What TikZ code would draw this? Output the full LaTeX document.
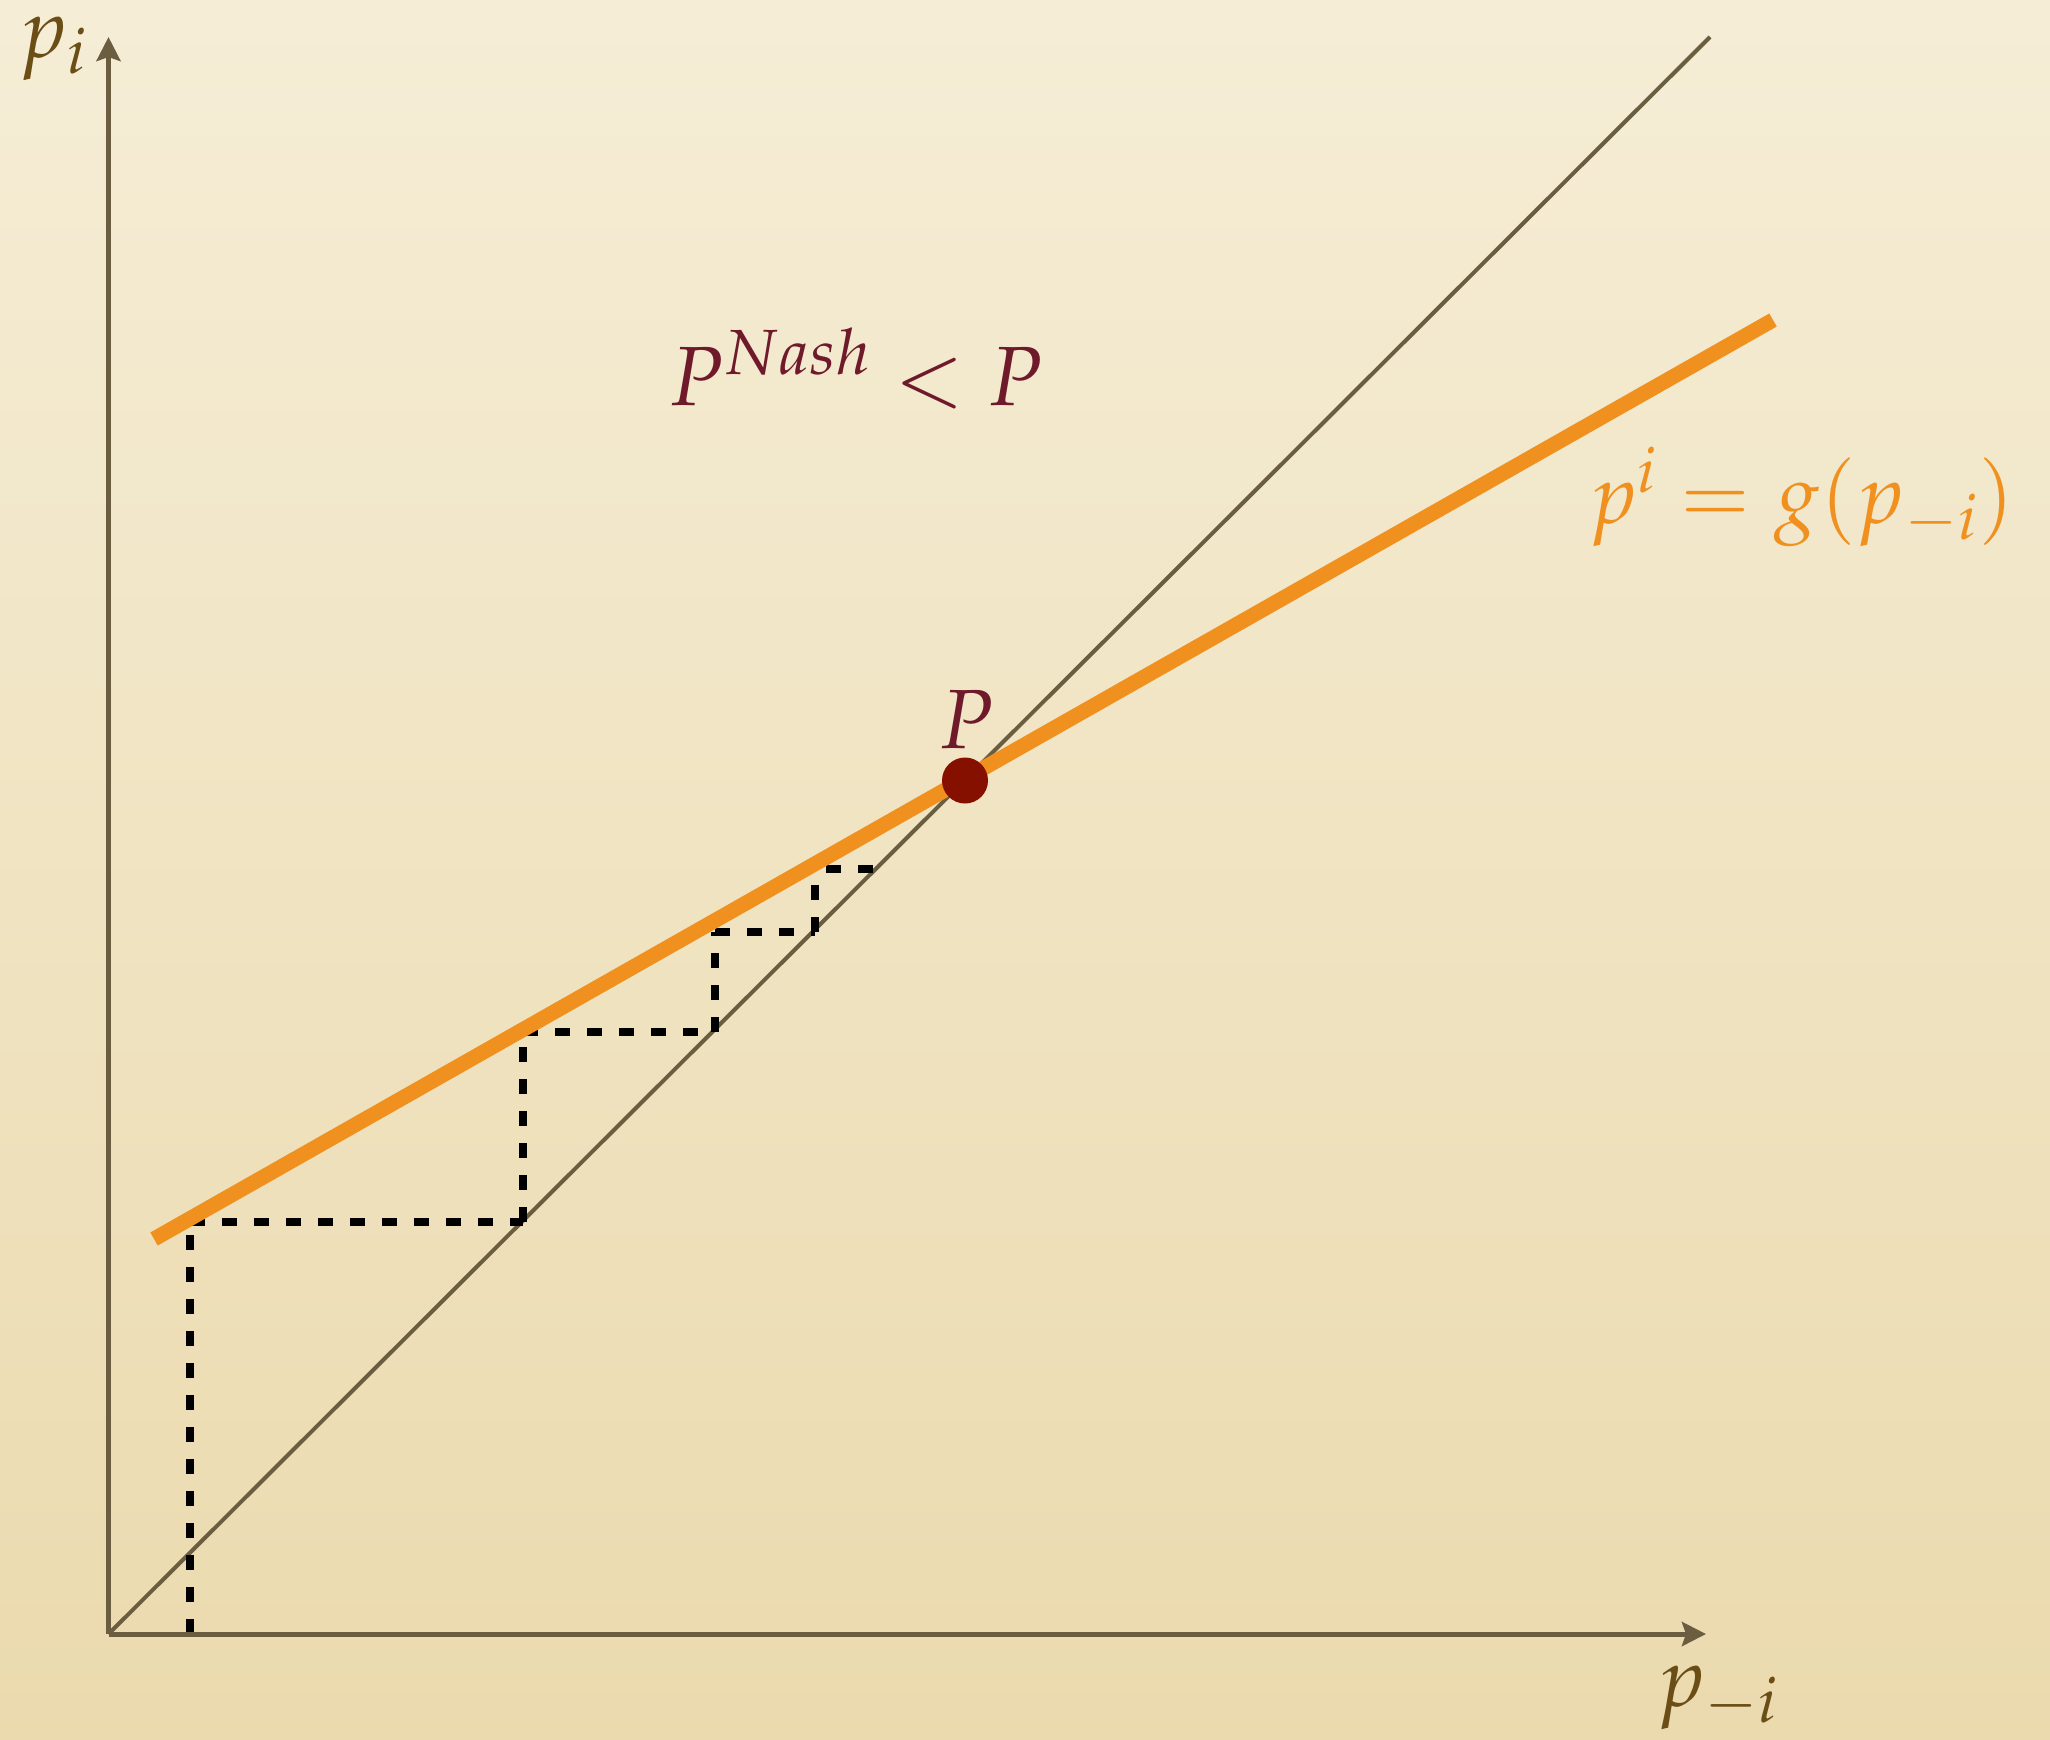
\documentclass[tikz,border=0pt]{standalone}
\usepackage{mathpazo}
\usetikzlibrary{arrows.meta}
\definecolor{bgtop}{HTML}{F5EDD6}
\definecolor{bgbot}{HTML}{EBDAAE}
\definecolor{axiscol}{HTML}{6B5E40}
\definecolor{orangec}{HTML}{F0901E}
\definecolor{dotc}{HTML}{861000}
\definecolor{maroonc}{HTML}{6E1A2B}
\definecolor{labelc}{HTML}{6B4D16}
\begin{document}
\begin{tikzpicture}[x=0.5bp,y=-0.5bp,
  axisline/.style={draw=axiscol,line width=2.5bp,-{Stealth[length=12bp,width=12bp,inset=2bp]}},
  diagline/.style={draw=axiscol,line width=2bp},
  bestresp/.style={draw=orangec,line width=7.5bp},
  cobweb/.style={draw=black,line width=4bp,dash pattern=on 7.5bp off 8.5bp},
  bigtext/.style={inner sep=0pt,font=\fontsize{42bp}{50bp}\selectfont},
]
\shade[top color=bgtop,bottom color=bgbot] (0,0) rectangle (2050,1739);
\useasboundingbox (0,0) rectangle (2050,1739);

\coordinate (O) at (108.5,1634);
\coordinate (Ytop) at (108.5,37);
\coordinate (Xend) at (1706,1634);
\coordinate (Dend) at (1710,37);
\coordinate (Ga) at (154,1239);
\coordinate (Gb) at (1773,320);

% cobweb points
\coordinate (c0) at (190,1634);
\coordinate (c1) at (190,1221.5);
\coordinate (c2) at (523,1221.5);
\coordinate (c3) at (523,1031.7);
\coordinate (c4) at (715,1031.7);
\coordinate (c5) at (715,931.7);
\coordinate (c6) at (815,931.7);
\coordinate (c7) at (815,869);
\coordinate (c8) at (873,869);

\draw[diagline] (O) -- (Dend);
\draw[cobweb] (c0) -- (c1);
\draw[cobweb] (c1) -- (c2);
\draw[cobweb] (c2) -- (c3);
\draw[cobweb] (c3) -- (c4);
\draw[cobweb] (c4) -- (c5);
\draw[cobweb] (c5) -- (c6);
\draw[cobweb] (c6) -- (c7);
\draw[cobweb] (c8) -- (c7);
\draw[bestresp] (Ga) -- (Gb);
\draw[axisline] (O) -- (Ytop);
\draw[axisline] (O) -- (Xend);

\node[circle,fill=dotc,inner sep=0pt,minimum size=23bp] (dot) at (965,780.5) {};
\node[bigtext,text=maroonc,anchor=base] (Plab) at (966,748) {$P$};
\node[bigtext,text=maroonc,anchor=base west] (nash) at (668,405) {$P^{Nash} < P$};
\node[bigtext,text=orangec,anchor=base west] (glab) at (1588,523) {$p^i = g(p_{-i})$};
\node[bigtext,text=labelc,anchor=base west] (pi) at (18,57) {$p_i$};
\node[bigtext,text=labelc,anchor=base west] (pmi) at (1656,1706) {$p_{-i}$};
\end{tikzpicture}
\end{document}
